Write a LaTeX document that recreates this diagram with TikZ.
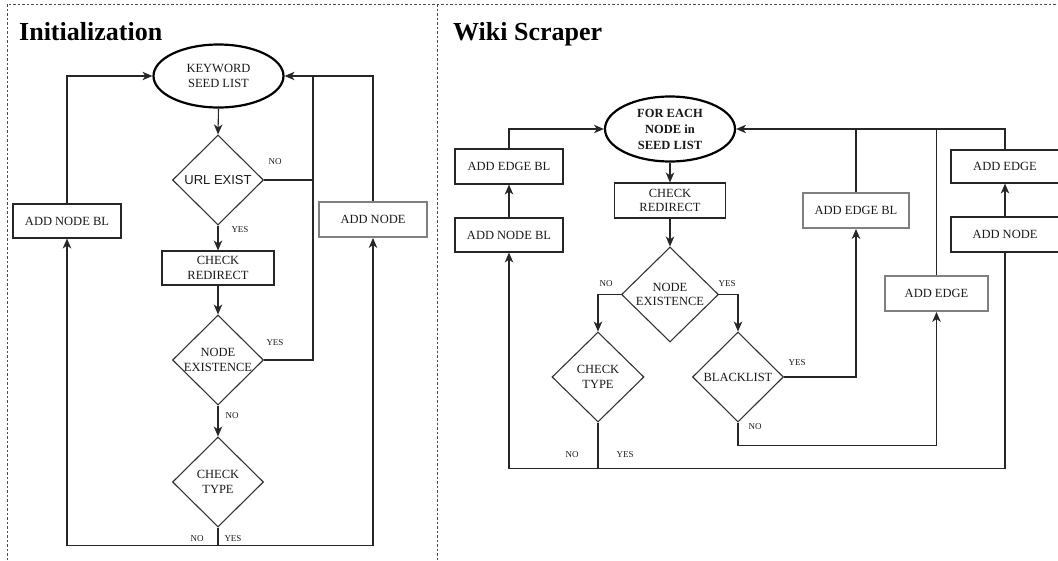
\documentclass[tikz,border=0pt]{standalone}
\usepackage{fontspec}
\setmainfont{Liberation Serif}
\newfontfamily\arialfont{Liberation Sans}
\usetikzlibrary{shapes.geometric,arrows.meta}

\begin{document}
\begin{tikzpicture}[x=1pt,y=-1pt,
  line/.style={draw=black!85, line width=1.1pt},
  arrow/.style={line, -{Stealth[length=10pt,width=8.5pt,inset=3pt]}},
  frame/.style={draw=black!70, line width=0.8pt, dash pattern=on 2.5pt off 2pt},
  boxtext/.style={align=center, font=\fontsize{12.5}{14.5}\selectfont, text=black!90},
  box/.style={rectangle, draw=black!85, line width=1.1pt, inner sep=0pt, boxtext},
  greybox/.style={box, draw=black!50, line width=1.9pt},
  decision/.style={diamond, draw=black!80, line width=1.1pt, aspect=1, inner sep=0pt,
    minimum width=91pt, minimum height=90pt},
  start/.style={ellipse, draw=black, line width=2.2pt, inner sep=0pt,
    minimum width=130pt, minimum height=63pt},
  tag/.style={font=\fontsize{9}{10}\selectfont, inner sep=0pt, text=black!90},
  heading/.style={font=\fontsize{26}{28}\selectfont\bfseries, anchor=base west, inner sep=0pt},
]
\useasboundingbox (0,0) rectangle (1058,560);

% panel frames
\draw[frame] (7,560) -- (7,4) -- (1058,4);
\draw[frame] (437,4) -- (437,560);

% ---------------- Initialization ----------------
\node[heading] (inittitle) at (19,40) {Initialization};

\node[start, label={[boxtext]center:KEYWORD\\SEED LIST}] (kw) at (218.5,76) {};
\node[decision, label={[boxtext,font=\arialfont\fontsize{13}{15}\selectfont]center:URL EXIST}] (url) at (218,180) {};
\node[box, minimum width=112pt, minimum height=34pt] (cr) at (218,268) {CHECK\\REDIRECT};
\node[decision, label={[boxtext]center:NODE\\EXISTENCE}] (ne) at (218,360) {};
\node[decision, label={[boxtext]center:CHECK\\TYPE}] (ct) at (218,482) {};
\node[box, minimum width=108pt, minimum height=34pt] (anbl1) at (67,221) {ADD NODE BL};
\node[greybox, minimum width=108pt, minimum height=35pt] (an1) at (373,219.5) {ADD NODE};

\coordinate (trunk) at (313,76);

\draw[arrow] (kw.south) -- (url.north);
\draw[arrow] (url.south) -- (cr.north);
\draw[arrow] (cr.south) -- (ne.north);
\draw[arrow] (ne.south) -- (ct.north);
\draw[line] (url.east) -- (url.east -| trunk);
\draw[line] (ne.east) -| (trunk);
\draw[arrow] (an1.north) |- (kw.east);
\draw[arrow] (anbl1.north) |- (kw.west);
\draw[arrow] (ct.south) -- ++(0,18) -| (anbl1.south);
\draw[arrow] (ct.south) -- ++(0,18) -| (an1.south);

\node[tag] (t1) at (275,162) {NO};
\node[tag] (t2) at (240,230) {YES};
\node[tag] (t3) at (275,343) {YES};
\node[tag] (t4) at (232,416) {NO};
\node[tag] (t5) at (197,539) {NO};
\node[tag] (t6) at (233,539) {YES};

% ---------------- Wiki Scraper ----------------
\node[heading] (wikititle) at (453,40) {Wiki Scraper};

\node[start, minimum height=65pt,
  label={[boxtext,font=\fontsize{12.5}{16}\selectfont\bfseries]center:FOR EACH\\NODE in\\SEED LIST}] (fe) at (670,129) {};
\node[box, minimum width=111pt, minimum height=35pt] (cr2) at (670,200.5) {CHECK\\REDIRECT};
\node[decision, minimum width=97pt, minimum height=95pt, label={[boxtext]center:NODE\\EXISTENCE}] (ne2) at (670,294.5) {};
\node[decision, minimum width=92pt, label={[boxtext]center:CHECK\\TYPE}] (ct2) at (598,377) {};
\node[decision, label={[boxtext]center:BLACKLIST}] (bl) at (738,377) {};
\node[box, minimum width=108pt, minimum height=35pt] (aebl2) at (509,166.5) {ADD EDGE BL};
\node[box, minimum width=108pt, minimum height=34pt] (anbl2) at (509,235) {ADD NODE BL};
\node[greybox, minimum width=106pt, minimum height=35pt] (aebl) at (856,210.5) {ADD EDGE BL};
\node[greybox, minimum width=103pt, minimum height=35pt] (ae2) at (936.5,293.5) {ADD EDGE};
\node[box, minimum width=108pt, minimum height=33pt] (ae) at (1005,166.5) {ADD EDGE};
\node[box, minimum width=108pt, minimum height=35pt] (an2) at (1005,234.5) {ADD NODE};

\draw[arrow] (fe.south) -- (cr2.north);
\draw[arrow] (cr2.south) -- (ne2.north);
\draw[arrow] (ne2.west) -| (ct2.north);
\draw[arrow] (ne2.east) -| (bl.north);
\draw[arrow] (bl.east) -| (aebl.south);
\draw[arrow] (bl.south) -- ++(0,23) -| (ae2.south);
\draw[arrow] (ct2.south) -- ++(0,46) -| (anbl2.south);
\draw[line] (ct2.south) -- ++(0,46) -| (an2.south);
\draw[arrow] (anbl2.north) -- (aebl2.south);
\draw[arrow] (aebl2.north) |- (fe.west);
\draw[arrow] (an2.north) -- (ae.south);
\draw[arrow] (ae.north) |- (fe.east);
\draw[line] (aebl.north) -- (aebl.north |- fe.east);
\draw[line] (ae2.north) -- (ae2.north |- fe.east);

\node[tag] (s1) at (606,284) {NO};
\node[tag] (s2) at (727,284) {YES};
\node[tag] (s3) at (797,363) {YES};
\node[tag] (s4) at (755,427) {NO};
\node[tag] (s5) at (572,455) {NO};
\node[tag] (s6) at (625,455) {YES};
\end{tikzpicture}
\end{document}
